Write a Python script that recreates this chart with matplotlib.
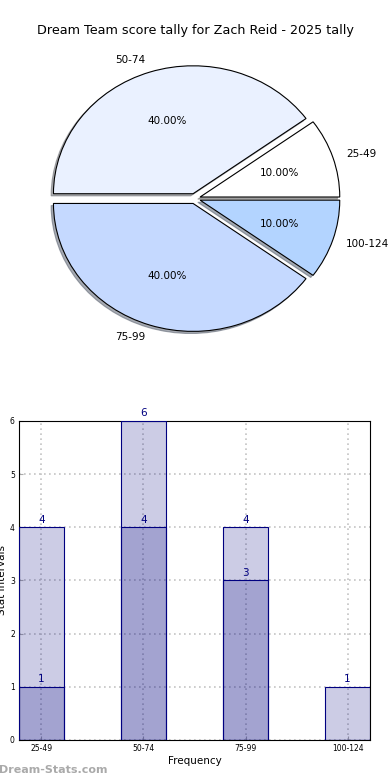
import matplotlib
matplotlib.use('Agg')
import matplotlib.pyplot as plt
import numpy as np

# data
bins = ['25-49', '50-74', '75-99', '100-124']
pie_share = [10, 40, 40, 10]
pie_colors = ['#ffffff', '#eaf1ff', '#c5d9ff', '#b3d4ff']
tally_all = [4, 6, 4, 1]
tally_year = [1, 4, 3, 0]

title = 'Dream Team score tally for Zach Reid - 2025 tally'

fig = plt.figure(figsize=(3.9, 7.8), dpi=100)

# pie (stretched, not equal aspect)
ax_p = fig.add_axes([0.052, 0.5404, 0.895, 0.410])
wedges, texts, autotexts = ax_p.pie(pie_share, labels=bins, colors=pie_colors,
                                    explode=[0.04] * 4,
                                    shadow={'ox': -0.012, 'oy': -0.012, 'shade': 0.6},
                                    startangle=0, autopct='%.2f%%',
                                    wedgeprops=dict(edgecolor='k', linewidth=0.8),
                                    textprops=dict(fontsize=7.5))
ax_p.set_aspect('auto')
ax_p.set_xlim(-1.25, 1.25)
ax_p.set_ylim(-1.25, 1.25)
fig.text(0.5, 0.961, title, ha='center', va='center', fontsize=9.2)

# bars
ax_b = fig.add_axes([0.0487, 0.0513, 0.900, 0.409])
x = np.arange(len(bins))
w = 0.44
ax_b.bar(x, tally_all, w, color='navy', alpha=0.2, zorder=2)
ax_b.bar(x, tally_all, w, facecolor='none', edgecolor='navy', linewidth=0.8, zorder=3)
ax_b.bar(x, tally_year, w, color='navy', alpha=0.2, zorder=2)
ax_b.bar(x, tally_year, w, facecolor='none', edgecolor='navy', linewidth=0.8, zorder=3)
for xi, v in zip(x, tally_all):
    ax_b.text(xi, v + 0.05, str(v), ha='center', va='bottom', color='navy',
              fontsize=7.5, clip_on=False)
for xi, v in zip(x, tally_year):
    if v > 0:
        ax_b.text(xi, v + 0.05, str(v), ha='center', va='bottom', color='navy',
                  fontsize=7.5, clip_on=False)

ax_b.set_xlim(-w / 2, len(bins) - 1 + w / 2)
ax_b.set_ylim(0, 6)
ax_b.set_xticks(x)
ax_b.set_xticklabels(bins)
ax_b.set_yticks(range(7))
ax_b.tick_params(labelsize=5.5, length=3, color='#aaaaaa', direction='in', pad=3)
ax_b.grid(True, ls=(0, (1, 2)), color='#c4c4c4', lw=1.2, zorder=0)
ax_b.set_axisbelow(True)
ax_b.set_xlabel('Frequency', fontsize=7.5, labelpad=2)
ax_b.set_ylabel('Stat Intervals', fontsize=7.5, labelpad=2)

fig.text(-0.003, 0.013, 'Dream-Stats.com', fontsize=8, color='#aaaaaa',
         fontweight='bold', ha='left', va='center')

plt.savefig('out.png', dpi=100)
